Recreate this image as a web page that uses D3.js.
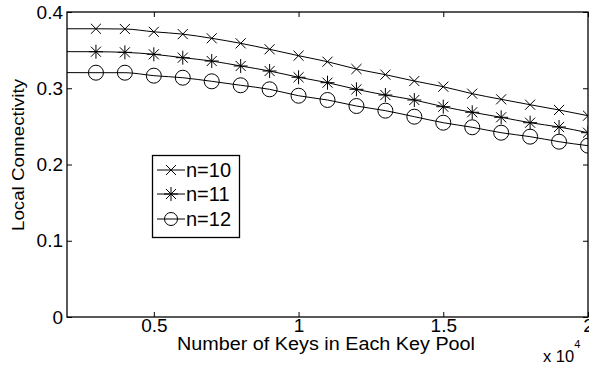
<!DOCTYPE html>
<html>
<head>
<meta charset="utf-8">
<script src="https://cdn.jsdelivr.net/npm/d3@7"></script>
<style>
  body { margin: 0; background: #fff; }
  text { font-family: "Liberation Sans", Arial, sans-serif; fill: #000; }
</style>
</head>
<body>
<div id="chart"></div>
<script>
// keys in each key pool (first point has no marker, it only carries the line to the axis)
const keys = [2000, 3000, 4000, 5000, 6000, 7000, 8000, 9000, 10000, 11000, 12000,
    13000, 14000, 15000, 16000, 17000, 18000, 19000, 20000];
const n10 = [0.378, 0.378, 0.3777, 0.374, 0.371, 0.3655, 0.3589, 0.3511, 0.3427, 0.3348,
    0.3252, 0.3178, 0.3095, 0.302, 0.2929, 0.2855, 0.2784, 0.2715, 0.264];
const n11 = [0.348, 0.3479, 0.3471, 0.3445, 0.3401, 0.3357, 0.3292, 0.3226, 0.3144, 0.3073,
    0.2986, 0.2911, 0.2846, 0.2758, 0.2685, 0.2619, 0.2548, 0.2492, 0.2417];
const n12 = [0.3205, 0.3204, 0.3204, 0.3165, 0.3138, 0.3091, 0.3039, 0.2986, 0.2902, 0.2846,
    0.2767, 0.2706, 0.2627, 0.2548, 0.2488, 0.2417, 0.2365, 0.2299, 0.2247];
const seriesNames = ['n=10', 'n=11', 'n=12'];
const markerTypes = ['x', 'star', 'circle'];
const xTicks = [5000, 10000, 15000, 20000];
const yTicks = [0, 0.1, 0.2, 0.3, 0.4];

const width = 589, height = 365;
const margin = {left: 67, right: 1, top: 12, bottom: 48};

const svg = d3.select('#chart')
    .append('svg')
    .attr('width', width)
    .attr('height', height);

const x = d3.scaleLinear().domain([2000, 20000]).range([margin.left, width - margin.right]);
const y = d3.scaleLinear().domain([0, 0.4]).range([height - margin.bottom, margin.top]);

const series = [n10, n11, n12].map((vals, i) => ({
    name: seriesNames[i],
    marker: markerTypes[i],
    points: vals.map((v, j) => ({x: keys[j], y: v}))
}));

svg.append('clipPath').attr('id', 'clip')
    .append('rect')
    .attr('x', margin.left).attr('y', margin.top)
    .attr('width', x.range()[1] - x.range()[0])
    .attr('height', y.range()[0] - y.range()[1]);

function drawMarker(g, type, cx, cy, s) {
    if (type === 'circle') {
        g.append('circle').attr('cx', cx).attr('cy', cy).attr('r', s)
            .attr('fill', 'none').attr('stroke', '#000').attr('stroke-width', 1);
        return;
    }
    let d = '';
    const a = s * 0.72;
    if (type === 'x' || type === 'star') {
        d += `M${cx - a},${cy - a}L${cx + a},${cy + a}M${cx - a},${cy + a}L${cx + a},${cy - a}`;
    }
    if (type === 'star') {
        d += `M${cx - s},${cy}L${cx + s},${cy}M${cx},${cy - s}L${cx},${cy + s}`;
    }
    g.append('path').attr('d', d).attr('fill', 'none')
        .attr('stroke', '#000').attr('stroke-width', 1);
}

const line = d3.line()
    .x(d => x(d.x))
    .y(d => y(d.y))
    .curve(d3.curveMonotoneX);

const plot = svg.append('g').attr('clip-path', 'url(#clip)');
series.forEach(s => {
    plot.append('path')
        .datum(s.points)
        .attr('d', line)
        .attr('fill', 'none')
        .attr('stroke', '#000')
        .attr('stroke-width', 1);
    const mg = plot.append('g');
    s.points.filter(p => p.x >= 3000).forEach(p => {
        drawMarker(mg, s.marker, x(p.x), y(p.y), s.marker === 'circle' ? 7.5 : 7);
    });
});

// axes, ticks inside, box on
const x0 = margin.left, x1 = width - margin.right;
const y0 = height - margin.bottom, y1 = margin.top;

svg.append('g')
    .attr('transform', `translate(0,${y0})`)
    .call(d3.axisBottom(x).tickValues(xTicks).tickSize(-5).tickFormat(d => d / 10000))
    .call(g => g.select('.domain').remove())
    .call(g => g.selectAll('text').attr('dy', null).attr('y', 15).style('font-size', '19px'));
svg.append('g')
    .attr('transform', `translate(0,${y1})`)
    .call(d3.axisTop(x).tickValues(xTicks).tickSize(-5).tickFormat(''))
    .call(g => g.select('.domain').remove());
svg.append('g')
    .attr('transform', `translate(${x0},0)`)
    .call(d3.axisLeft(y).tickValues(yTicks).tickSize(-5).tickFormat(d => d))
    .call(g => g.select('.domain').remove())
    .call(g => g.selectAll('text').attr('x', -4).style('font-size', '19px'));
svg.append('g')
    .attr('transform', `translate(${x1},0)`)
    .call(d3.axisRight(y).tickValues(yTicks).tickSize(-5).tickFormat(''))
    .call(g => g.select('.domain').remove());
svg.selectAll('.tick line').attr('stroke', '#000');

svg.append('rect')
    .attr('x', x0).attr('y', y1)
    .attr('width', x1 - x0).attr('height', y0 - y1)
    .attr('fill', 'none').attr('stroke', '#000').attr('stroke-width', 1.3);

// axis labels (the original font is wide for its height)
svg.append('text')
    .attr('x', 326)
    .attr('y', 350)
    .attr('text-anchor', 'middle')
    .attr('textLength', 298)
    .attr('lengthAdjust', 'spacingAndGlyphs')
    .style('font-size', '17.5px')
    .text('Number of Keys in Each Key Pool');

const mult = svg.append('text')
    .attr('x', 543)
    .attr('y', 362)
    .style('font-size', '16.5px');
mult.append('tspan').text('x 10');
mult.append('tspan').attr('dy', -14).style('font-size', '11px').text('4');

svg.append('text')
    .attr('transform', `translate(24,155) rotate(-90)`)
    .attr('text-anchor', 'middle')
    .attr('textLength', 152)
    .attr('lengthAdjust', 'spacingAndGlyphs')
    .style('font-size', '16.5px')
    .text('Local Connectivity');

// legend
const lg = svg.append('g');
lg.append('rect')
    .attr('x', 152.5).attr('y', 155.5)
    .attr('width', 87).attr('height', 82)
    .attr('fill', '#fff').attr('stroke', '#000').attr('stroke-width', 1.3);
const rowY = [170, 194, 219];
series.forEach((s, i) => {
    lg.append('line')
        .attr('x1', 157).attr('x2', 185)
        .attr('y1', rowY[i]).attr('y2', rowY[i])
        .attr('stroke', '#000');
    drawMarker(lg, s.marker, 171, rowY[i], s.marker === 'circle' ? 6.5 : 7);
    lg.append('text')
        .attr('x', 186)
        .attr('y', rowY[i])
        .attr('dy', '0.36em')
        .style('font-size', '20px')
        .text(s.name);
});
</script>
</body>
</html>
